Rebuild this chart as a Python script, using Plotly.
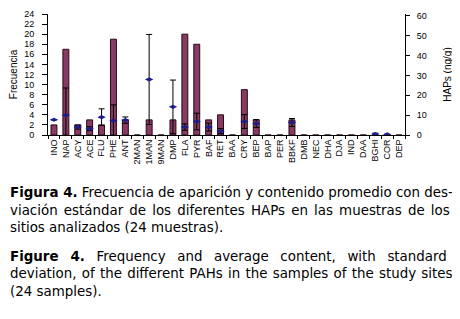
import plotly.graph_objects as go

categories = ["INO", "NAP", "ACY", "ACE", "FLU", "PHE", "ANT", "2MAN", "1MAN", "9MAN",
              "DMP", "FLA", "PYR", "BAF", "RET", "BAA", "CRY", "BEP", "BAP", "PER",
              "BBKF", "DMB", "NEC", "DHA", "DJA", "IND", "DAA", "BGHI", "COR", "DEP"]
frequency = [2, 17, 2, 3, 2, 19, 3, 0, 3, 0,
             3, 20, 18, 3, 4, 0, 9, 3, 0, 0,
             3, 0, 0, 0, 0, 0, 0, 0, 0, 0]
mean_content = [7.7, 10.0, 4.0, 3.2, 9.0, 7.2, 7.5, None, 28.0, None,
                14.2, 4.0, 6.8, 4.0, 2.0, None, 6.8, 5.8, None, None,
                6.3, None, None, None, None, None, None, 0.5, 0.3, None]
std_dev = [0, 13.7, 1.0, 1.0, 4.2, 8.0, 1.6, None, 22.7, None,
           13.5, 1.6, 4.2, 2.0, 1.2, None, 3.5, 2.0, None, None,
           2.0, None, None, None, None, None, None, 0.4, 0, None]

caption_es = ["<b>Figura 4.</b> Frecuencia de aparición y contenido promedio con des-",
              "viación estándar de los diferentes HAPs en las muestras de los",
              "sitios analizados (24 muestras)."]
caption_en = ["<b>Figure 4.</b> Frequency and average content, with standard",
              "deviation, of the different PAHs in the samples of the study sites",
              "(24 samples)."]

# extra word spacing (px) to imitate the justified caption lines
es_wordspace = [0, 1.9, 0]
en_wordspace = [7.3, 1.0, 0]


def justify(line, ws):
    if not ws:
        return line
    return '<span style="word-spacing:%.1fpx">%s</span>' % (ws, line)


fig = go.Figure()
fig.add_trace(go.Bar(
    x=categories, y=frequency, name="Frecuencia",
    marker=dict(color="#873a62", line=dict(color="#2a0a1a", width=1)),
    yaxis="y"))
fig.add_trace(go.Scatter(
    x=categories, y=mean_content, mode="markers", name="HAPs",
    marker=dict(symbol="diamond-wide", size=6, color="#1c1c8c"),
    error_y=dict(type="data", array=std_dev, visible=True, color="black",
                 thickness=1, width=3),
    yaxis="y2"))

font_axis = dict(family="Liberation Sans, Arial, sans-serif", size=9, color="black")

# The page body has an 8px default margin; the figure is sized to fit the window.
fig.update_layout(
    width=452, height=311,
    margin=dict(l=40, r=55, t=6, b=184),
    paper_bgcolor="white", plot_bgcolor="white",
    showlegend=False, bargap=0.5,
    font=font_axis,
    xaxis=dict(type="category", showline=True, linecolor="black", linewidth=1,
               ticks="outside", tickson="boundaries", ticklen=3, tickcolor="black",
               tickangle=-90, tickfont=dict(size=9), showgrid=False, automargin=False,
               range=[-0.5, len(categories) - 0.5]),
    yaxis=dict(range=[0, 24], dtick=2, showline=True, linecolor="black", linewidth=1,
               ticks="outside", ticklen=5, tickcolor="black", showgrid=False,
               ticklabelstandoff=6, automargin=False, ticklabeloverflow="allow",
               zeroline=False, title=dict(text="Frecuencia", standoff=7,
                                          font=dict(size=10))),
    yaxis2=dict(range=[0, 61], dtick=10, overlaying="y", side="right", showline=True,
                linecolor="black", linewidth=1, ticks="outside", ticklen=4,
                tickcolor="black", showgrid=False, zeroline=False,
                ticklabelstandoff=5, automargin=False, ticklabeloverflow="allow",
                title=dict(text="HAPs (ng/g)", standoff=18, font=dict(size=10))),
)

cap_font = dict(family="DejaVu Sans, sans-serif", size=13.4, color="black")
es_shift = [57, 75, 92]
en_shift = [121, 138.5, 156]
for line, ws, dy in zip(caption_es, es_wordspace, es_shift):
    fig.add_annotation(text=justify(line, ws), xref="paper", yref="paper",
                       x=-40 / 357, y=0, xanchor="left", yanchor="middle", yshift=-dy,
                       showarrow=False, font=cap_font, align="left")
for line, ws, dy in zip(caption_en, en_wordspace, en_shift):
    fig.add_annotation(text=justify(line, ws), xref="paper", yref="paper",
                       x=-40 / 357, y=0, xanchor="left", yanchor="middle", yshift=-dy,
                       showarrow=False, font=cap_font, align="left")

fig.write_html("out.html")
